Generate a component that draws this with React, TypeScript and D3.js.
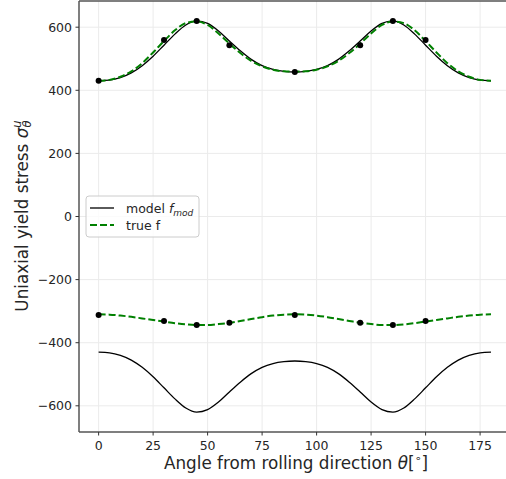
import React from "react";
import * as d3 from "d3";

// angles for the curves (degrees)
const angles = [0,5,10,15,20,25,30,35,40,45,50,55,60,65,70,75,80,85,90,95,100,105,110,115,120,125,130,135,140,145,150,155,160,165,170,175,180];
// model f_mod, positive branch
const modelPos = [430,432,440,455,478,508,543,578,607,620,612,588,556,525,498,478,466,460,458,460,466,478,498,525,556,588,612,620,607,578,543,508,478,455,440,432,430];
// model f_mod, negative branch
const modelNeg = [-430,-432,-440,-455,-478,-508,-543,-578,-607,-620,-612,-588,-556,-525,-498,-478,-466,-460,-458,-460,-466,-478,-498,-525,-556,-588,-612,-620,-607,-578,-543,-508,-478,-455,-440,-432,-430];
// true f, positive branch
const truePos = [430,433,443,460,486,520,556,590,613,618,607,580,548,518,493,476,465,460,459,460,465,476,493,518,548,580,607,618,613,590,556,520,486,460,443,433,430];
// true f, negative branch
const trueNeg = [-310,-311,-314,-318,-323,-328,-333,-338,-342,-344,-344,-341,-337,-331,-325,-319,-314,-311,-310,-311,-314,-319,-325,-331,-337,-341,-344,-344,-342,-338,-333,-328,-323,-318,-314,-311,-310];
// measured points
const ptAngles = [0,30,45,60,90,120,135,150];
const ptPos = [430,559,620,543,458,543,620,559];
const ptNeg = [-312,-331,-344,-337,-312,-337,-344,-331];

const xTicks = [0,25,50,75,100,125,150,175];
const yTicks = [-600,-400,-200,0,200,400,600];

const W = 506, H = 479;
const fmt = (v: number) => (v < 0 ? "\u2212" + Math.abs(v) : String(v));

export default function App() {
  const x = d3.scaleLinear().domain([-9, 189]).range([79, 510.6]);
  const y = d3.scaleLinear().domain([-683, 683]).range([432, 1]);
  const line = d3.line<number>().x((_, i) => x(angles[i])).y(d => y(d)).curve(d3.curveMonotoneX);
  const font = "DejaVu Sans, sans-serif";
  const grid = "#ebebeb";
  return (
    <svg width={W} height={H} style={{ position: "absolute", left: 0, top: 0 }} fontFamily={font}>
      <rect width={W} height={H} fill="white" />
      <defs>
        <clipPath id="clip"><rect x={79} y={1} width={432} height={431} /></clipPath>
      </defs>
      {xTicks.map(t => <line key={"gx"+t} x1={x(t)} x2={x(t)} y1={1} y2={432} stroke={grid} strokeWidth={1} />)}
      {yTicks.map(t => <line key={"gy"+t} x1={79} x2={W} y1={y(t)} y2={y(t)} stroke={grid} strokeWidth={1} />)}
      <g clipPath="url(#clip)">
        <path d={line(modelPos) || ""} fill="none" stroke="black" strokeWidth={1.3} />
        <path d={line(modelNeg) || ""} fill="none" stroke="black" strokeWidth={1.3} />
        <path d={line(truePos) || ""} fill="none" stroke="#008000" strokeWidth={2} strokeDasharray="7,3" />
        <path d={line(trueNeg) || ""} fill="none" stroke="#008000" strokeWidth={2} strokeDasharray="7,3" />
        {ptAngles.map((a, i) => <circle key={"p"+i} cx={x(a)} cy={y(ptPos[i])} r={3} fill="black" />)}
        {ptAngles.map((a, i) => <circle key={"n"+i} cx={x(a)} cy={y(ptNeg[i])} r={3} fill="black" />)}
      </g>
      {/* spines */}
      <line x1={79} x2={79} y1={1} y2={432} stroke="#555" strokeWidth={1.5} />
      <line x1={79} x2={W} y1={432} y2={432} stroke="#555" strokeWidth={1.5} />
      <line x1={79} x2={W} y1={1} y2={1} stroke="#555" strokeWidth={1.5} />
      {/* ticks */}
      {xTicks.map(t => (
        <g key={"xt"+t}>
          <line x1={x(t)} x2={x(t)} y1={432} y2={435.5} stroke="#333" strokeWidth={1} />
          <text x={x(t)} y={450} textAnchor="middle" fontSize={12.5} fill="#262626">{t}</text>
        </g>
      ))}
      {yTicks.map(t => (
        <g key={"yt"+t}>
          <line x1={75.5} x2={79} y1={y(t)} y2={y(t)} stroke="#333" strokeWidth={1} />
          <text x={72} y={y(t) + 4.5} textAnchor="end" fontSize={12.5} fill="#262626">{fmt(t)}</text>
        </g>
      ))}
      {/* x label */}
      <text x={296} y={469} textAnchor="middle" fontSize={16.8} fill="#262626">
        Angle from rolling direction <tspan fontStyle="italic">θ</tspan>[<tspan fontSize={11} dy={-7}>∘</tspan><tspan dy={7}>]</tspan>
      </text>
      {/* y label */}
      <g transform="translate(28,216) rotate(-90)">
        <text x={0} y={0} textAnchor="middle" fontSize={16.8} fill="#262626">
          Uniaxial yield stress <tspan fontStyle="italic">σ</tspan><tspan fontSize={11.5} fontStyle="italic" dy={-7}>u</tspan><tspan fontSize={11.5} fontStyle="italic" dx={-7} dy={10}>θ</tspan>
        </text>
      </g>
      {/* legend */}
      <g>
        <rect x={86} y={196} width={113} height={41} rx={3} fill="white" fillOpacity={0.8} stroke="#cccccc" strokeWidth={1} />
        <line x1={90} x2={114} y1={208} y2={208} stroke="black" strokeWidth={1.3} />
        <text x={126} y={212.5} fontSize={12.5} fill="#262626">model <tspan fontStyle="italic">f</tspan><tspan fontStyle="italic" fontSize={9} dy={3}>mod</tspan></text>
        <line x1={90} x2={114} y1={225} y2={225} stroke="#008000" strokeWidth={2} strokeDasharray="7,3" />
        <text x={126} y={229.5} fontSize={12.5} fill="#262626">true f</text>
      </g>
    </svg>
  );
}
